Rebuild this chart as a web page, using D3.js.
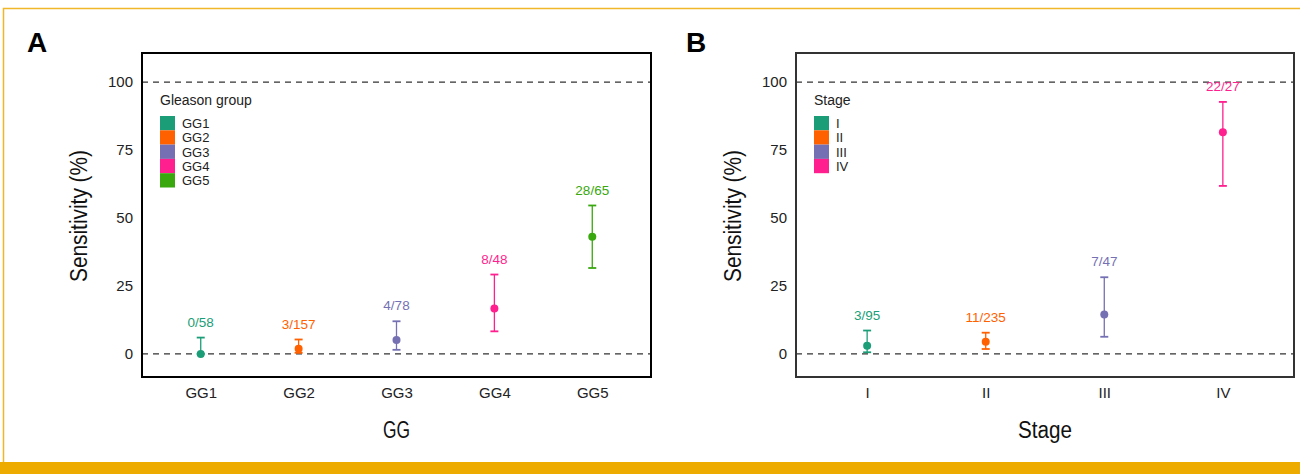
<!DOCTYPE html>
<html>
<head>
<meta charset="utf-8">
<script src="https://cdn.jsdelivr.net/npm/d3@7"></script>
<style>
  body { margin: 0; background: #fff; }
  svg { display: block; font-family: "Liberation Sans", Arial, sans-serif; }
</style>
</head>
<body>
<div id="container"></div>
<script>
// panel A: Gleason group
var ggCats = ["GG1", "GG2", "GG3", "GG4", "GG5"];
var ggEst = [0, 1.9, 5.1, 16.7, 43.1];
var ggLow = [0, 0.4, 1.5, 8.3, 31.6];
var ggHigh = [6.0, 5.3, 12.0, 29.2, 54.6];
var ggText = ["0/58", "3/157", "4/78", "8/48", "28/65"];
var ggColors = ["#1b9e77", "#ff6100", "#7570b3", "#ff1f8e", "#38a80e"];

// panel B: stage
var stCats = ["I", "II", "III", "IV"];
var stEst = [3.0, 4.5, 14.5, 81.5];
var stLow = [0.6, 1.8, 6.3, 61.8];
var stHigh = [8.6, 7.8, 28.2, 92.7];
var stText = ["3/95", "11/235", "7/47", "22/27"];
var stColors = ["#1b9e77", "#ff6100", "#7570b3", "#ff1f8e"];

var yTicks = [0, 25, 50, 75, 100];
var refLines = [0, 100];

var svg = d3.select("#container").append("svg")
  .attr("width", 1300).attr("height", 474);

// gold frame
svg.append("rect").attr("x", 0).attr("y", 462).attr("width", 1300).attr("height", 12).attr("fill", "#edab00");
svg.append("path").attr("d", "M3.5,462 V8.5 H1300").attr("fill", "none").attr("stroke", "#f0b72a").attr("stroke-width", 1.5);

function panel(opt)
{// draw one panel
  var g = svg.append("g");
  var x = d3.scalePoint().domain(opt.cats).range([opt.left, opt.right]).padding(0.6);
  var y = d3.scaleLinear().domain([-8.5, 110.7]).range([377, 53]);
  var rows = opt.cats.map((c, i) => ({cat: c, est: opt.est[i], lo: opt.low[i], hi: opt.high[i], txt: opt.text[i], col: opt.colors[i]}));

  // dashed reference lines
  g.selectAll(".ref").data(refLines).enter().append("line")
    .attr("x1", opt.left).attr("x2", opt.right)
    .attr("y1", d => y(d)).attr("y2", d => y(d))
    .attr("stroke", "#333").attr("stroke-width", 1.1).attr("stroke-dasharray", "6,5");

  // frame
  g.append("rect").attr("x", opt.left).attr("y", 53)
    .attr("width", opt.right - opt.left).attr("height", 324)
    .attr("fill", "none").attr("stroke", opt.frame).attr("stroke-width", 2);

  // axes
  var ya = g.append("g").attr("transform", "translate(" + opt.left + ",0)")
    .call(d3.axisLeft(y).tickValues(yTicks).tickSize(0).tickPadding(9));
  ya.select(".domain").remove();
  ya.selectAll("text").attr("font-size", 15).attr("fill", "#222").attr("font-family", "Liberation Sans, Arial, sans-serif");

  var xa = g.append("g").attr("transform", "translate(0,377)")
    .call(d3.axisBottom(x).tickSize(0).tickPadding(10));
  xa.select(".domain").remove();
  xa.selectAll("text").attr("font-size", 15).attr("fill", "#222").attr("font-family", "Liberation Sans, Arial, sans-serif");

  // error bars
  var eb = g.selectAll(".eb").data(rows).enter().append("g");
  eb.append("line").attr("x1", d => x(d.cat)).attr("x2", d => x(d.cat))
    .attr("y1", d => y(d.lo)).attr("y2", d => y(d.hi)).attr("stroke", d => d.col).attr("stroke-width", 1.3);
  eb.append("line").attr("x1", d => x(d.cat) - 4).attr("x2", d => x(d.cat) + 4)
    .attr("y1", d => y(d.hi)).attr("y2", d => y(d.hi)).attr("stroke", d => d.col).attr("stroke-width", 1.8);
  eb.append("line").attr("x1", d => x(d.cat) - 4).attr("x2", d => x(d.cat) + 4)
    .attr("y1", d => y(d.lo)).attr("y2", d => y(d.lo)).attr("stroke", d => d.col).attr("stroke-width", 1.8);
  eb.append("circle").attr("cx", d => x(d.cat)).attr("cy", d => y(d.est)).attr("r", 4).attr("fill", d => d.col);
  eb.append("text").attr("x", d => x(d.cat)).attr("y", d => y(d.hi + 4))
    .attr("text-anchor", "middle").attr("font-size", 13.5).attr("fill", d => d.col).text(d => d.txt);

  // legend
  var lg = g.append("g").attr("transform", "translate(" + (opt.left + 18) + ",0)");
  lg.append("text").attr("x", 0).attr("y", 105).attr("font-size", 14).attr("fill", "#222").text(opt.legendTitle);
  var items = lg.selectAll(".li").data(rows).enter().append("g")
    .attr("transform", (d, i) => "translate(0," + (116 + i * 14.3) + ")");
  items.append("rect").attr("width", 15).attr("height", 14.3).attr("fill", d => d.col);
  items.append("text").attr("x", 22).attr("y", 12).attr("font-size", 13).attr("fill", "#222").text(d => d.cat);

  // titles
  g.append("text").attr("x", (opt.left + opt.right) / 2).attr("y", 438)
    .attr("text-anchor", "middle").attr("font-size", 23).attr("fill", "#111")
    .attr("textLength", opt.xTitleLen).attr("lengthAdjust", "spacingAndGlyphs").text(opt.xTitle);
  g.append("text")
    .attr("transform", "translate(" + (opt.left - 55) + ",216) rotate(-90)")
    .attr("text-anchor", "middle").attr("font-size", 23).attr("fill", "#111")
    .attr("textLength", 132).attr("lengthAdjust", "spacingAndGlyphs").text("Sensitivity (%)");
  g.append("text").attr("x", opt.letterX).attr("y", 52).attr("font-size", 28).attr("font-weight", "bold")
    .attr("fill", "#000").text(opt.letter);
}

panel({cats: ggCats, est: ggEst, low: ggLow, high: ggHigh, text: ggText, colors: ggColors,
  left: 142, right: 651, frame: "#000", legendTitle: "Gleason group", xTitle: "GG", xTitleLen: 27, letter: "A", letterX: 27});
panel({cats: stCats, est: stEst, low: stLow, high: stHigh, text: stText, colors: stColors,
  left: 796, right: 1294, frame: "#333", legendTitle: "Stage", xTitle: "Stage", xTitleLen: 54, letter: "B", letterX: 686});
</script>
</body>
</html>
